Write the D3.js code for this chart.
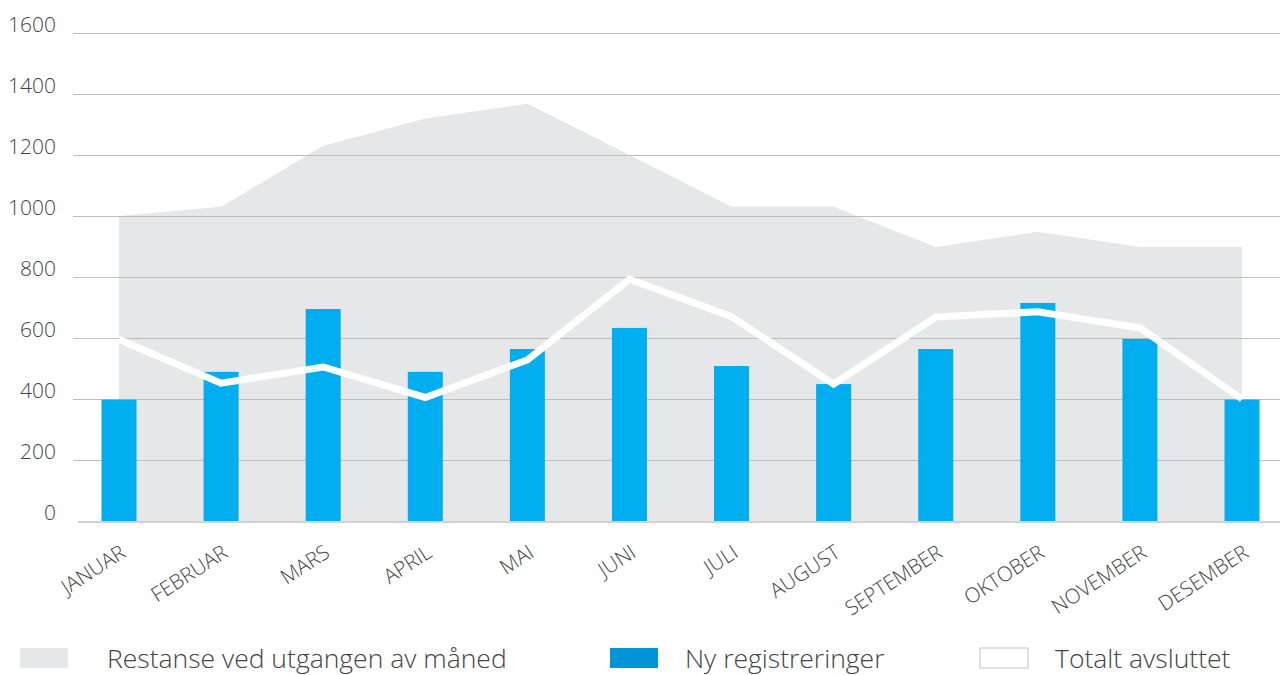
<!DOCTYPE html>
<html lang="no">
<head>
<meta charset="UTF-8">
<title>Restanse og registreringer</title>
<script src="https://d3js.org/d3.v7.min.js"></script>
<style>
  body { margin: 0; background: #fff; }
  text { font-family: "Open Sans", sans-serif; font-weight: 300; fill: #444; }
</style>
</head>
<body>
<svg id="chart" width="1280" height="675"></svg>
<script>
// data
var months = ["JANUAR", "FEBRUAR", "MARS", "APRIL", "MAI", "JUNI", "JULI",
              "AUGUST", "SEPTEMBER", "OKTOBER", "NOVEMBER", "DESEMBER"];
var restanse = [1000, 1030, 1230, 1320, 1368, 1200, 1030, 1030, 898, 948, 898, 898];
var nyReg = [398, 489, 695, 489, 564, 633, 508, 449, 564, 715, 597, 398];
var avsluttet = [595, 452, 505, 405, 528, 793, 670, 449, 669, 686, 633, 400];
var yTicks = [0, 200, 400, 600, 800, 1000, 1200, 1400, 1600];

var svg = d3.select("#chart");

var x = d3.scalePoint().domain(months).range([119, 1242]);
var y = d3.scaleLinear().domain([0, 1600]).range([521, 33]);
var barW = 35;

// gridlines + y labels
function drawGrid() {
    svg.append("g").selectAll("line")
        .data(yTicks.filter(function (d) { return d > 0; }))
        .enter().append("line")
        .attr("x1", 73).attr("x2", 1280)
        .attr("y1", function (d) { return y(d) + 0.5; })
        .attr("y2", function (d) { return y(d) + 0.5; })
        .attr("stroke", "#bdbdbd").attr("stroke-width", 1);
}

svg.append("g").selectAll("text")
    .data(yTicks)
    .enter().append("text")
    .attr("x", 56)
    .attr("y", function (d) { return y(d) - 1; })
    .attr("text-anchor", "end")
    .style("font-size", "21px")
    .text(function (d) { return d; });

// area: restanse
var area = d3.area()
    .x(function (d, i) { return x(months[i]); })
    .y0(y(0))
    .y1(function (d) { return y(d); });

svg.append("path")
    .datum(restanse)
    .attr("d", area)
    .attr("fill", "#e6e7e9");

// gridlines sit on top of the area
drawGrid();

// bars
svg.append("g").selectAll("rect")
    .data(nyReg)
    .enter().append("rect")
    .attr("x", function (d, i) { return x(months[i]) - barW / 2; })
    .attr("width", barW)
    .attr("y", function (d) { return y(d); })
    .attr("height", function (d) { return y(0) - y(d); })
    .attr("fill", "#00aeef");

// baseline
svg.append("line")
    .attr("x1", 78).attr("x2", 1280)
    .attr("y1", y(0) + 1).attr("y2", y(0) + 1)
    .attr("stroke", "#d2d2d2").attr("stroke-width", 2);

// line: totalt avsluttet
var line = d3.line()
    .x(function (d, i) { return x(months[i]); })
    .y(function (d) { return y(d); });

svg.append("path")
    .datum(avsluttet)
    .attr("d", line)
    .attr("fill", "none")
    .attr("stroke", "#fff")
    .attr("stroke-width", 7);

// x labels
svg.append("g").selectAll("text")
    .data(months)
    .enter().append("text")
    .attr("text-anchor", "end")
    .attr("transform", function (d) {
        return "translate(" + (x(d) + 8) + ",556) rotate(-33)";
    })
    .style("font-size", "20.5px")
    .text(function (d) { return d; });

// legend
var legend = [
    { label: "Restanse ved utgangen av måned", x: 20, tx: 107, fill: "#e6e7e9", stroke: "none" },
    { label: "Ny registreringer", x: 610, tx: 685, fill: "#0095d6", stroke: "none" },
    { label: "Totalt avsluttet", x: 980, tx: 1055, fill: "#fff", stroke: "#c4c4c4" }
];
var lg = svg.append("g").selectAll("g").data(legend).enter().append("g");
lg.append("rect")
    .attr("x", function (d) { return d.x; })
    .attr("y", 648)
    .attr("width", 48).attr("height", 20)
    .attr("fill", function (d) { return d.fill; })
    .attr("stroke", function (d) { return d.stroke; });
lg.append("text")
    .attr("x", function (d) { return d.tx; })
    .attr("y", 668)
    .style("font-size", "26.5px")
    .text(function (d) { return d.label; });
</script>
</body>
</html>
